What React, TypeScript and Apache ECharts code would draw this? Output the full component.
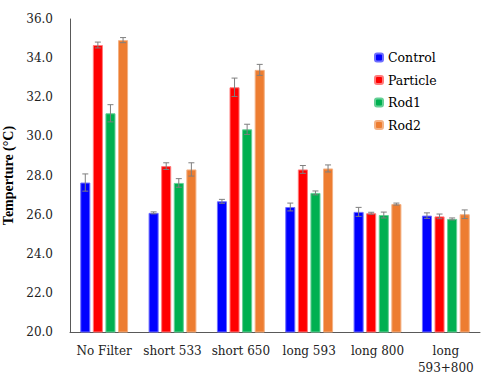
import React, { useEffect, useRef } from "react";
import * as echarts from "echarts";

const categories = ["No Filter", "short 533", "short 650", "long 593", "long 800", "long\n593+800"];
const seriesNames = ["Control", "Particle", "Rod1", "Rod2"];
const controlValues = [27.64, 26.09, 26.68, 26.39, 26.14, 25.95];
const particleValues = [34.67, 28.48, 32.51, 28.31, 26.07, 25.91];
const rod1Values = [31.18, 27.62, 30.36, 27.11, 25.98, 25.78];
const rod2Values = [34.92, 28.31, 33.4, 28.36, 26.54, 26.02];
const controlErrors = [0.44, 0.05, 0.1, 0.2, 0.23, 0.14];
const particleErrors = [0.15, 0.17, 0.47, 0.2, 0.05, 0.12];
const rod1Errors = [0.44, 0.22, 0.26, 0.1, 0.15, 0.05];
const rod2Errors = [0.13, 0.34, 0.28, 0.18, 0.05, 0.22];
const colors = ["#0000FF", "#FF0000", "#00B050", "#ED7D31"];
const borderColors = ["#6f6fff", "#ff7a7a", "#66d096", "#f4b183"];

const allValues = [controlValues, particleValues, rod1Values, rod2Values];
const allErrors = [controlErrors, particleErrors, rod1Errors, rod2Errors];

const CAT_GAP = 0.3;
const BAR_GAP = 0.25;
const SERIF = "DejaVu Serif";

export default function App() {
  const ref = useRef<HTMLDivElement>(null);
  useEffect(() => {
    if (!ref.current) return;
    const chart = echarts.init(ref.current, null, { renderer: "svg" });
    const n = seriesNames.length;
    const barSeries = seriesNames.map((name, i) => ({
      name,
      type: "bar",
      data: allValues[i],
      barGap: `${BAR_GAP * 100}%`,
      barCategoryGap: `${CAT_GAP * 100}%`,
      itemStyle: { color: colors[i], borderColor: borderColors[i], borderWidth: 1 },
    }));
    const errSeries = seriesNames.map((name, i) => ({
      name: name + "_err",
      type: "custom",
      z: 5,
      silent: true,
      data: allValues[i].map((v, k) => [k, v - allErrors[i][k], v + allErrors[i][k]]),
      renderItem: (params: any, api: any) => {
        const k = api.value(0);
        const lo = api.coord([k, api.value(1)]);
        const hi = api.coord([k, api.value(2)]);
        const band = api.size([1, 0])[0];
        const usable = band * (1 - CAT_GAP);
        const w = usable / (n + (n - 1) * BAR_GAP);
        const total = n * w + (n - 1) * w * BAR_GAP;
        const cx = lo[0] - total / 2 + i * w * (1 + BAR_GAP) + w / 2;
        const cap = 3;
        const style = { stroke: "#7f7f7f", lineWidth: 1 };
        return {
          type: "group",
          children: [
            { type: "line", shape: { x1: cx, y1: lo[1], x2: cx, y2: hi[1] }, style },
            { type: "line", shape: { x1: cx - cap, y1: hi[1], x2: cx + cap, y2: hi[1] }, style },
            { type: "line", shape: { x1: cx - cap, y1: lo[1], x2: cx + cap, y2: lo[1] }, style },
          ],
        };
      },
    }));
    chart.setOption({
      animation: false,
      legend: {
        data: seriesNames,
        orient: "vertical",
        left: 369,
        top: 46,
        itemWidth: 8,
        itemHeight: 8,
        itemGap: 9.5,
        textStyle: { fontFamily: SERIF, fontSize: 12.5, color: "#000" },
      },
      grid: { left: 70, right: 4, top: 19, bottom: 42, outerBoundsMode: "none", containLabel: false },
      xAxis: {
        type: "category",
        data: categories,
        axisLine: { lineStyle: { color: "#595959", width: 1 } },
        axisTick: { show: false },
        axisLabel: { fontFamily: SERIF, fontSize: 12, color: "#222", margin: 10, lineHeight: 17, interval: 0 },
      },
      yAxis: {
        type: "value",
        min: 20,
        max: 36,
        interval: 2,
        name: "Temperture (°C)",
        nameLocation: "middle",
        nameGap: 48,
        nameTextStyle: { fontFamily: "Liberation Serif", fontSize: 14, fontWeight: "bold", color: "#000" },
        axisLine: { show: true, lineStyle: { color: "#595959", width: 1 } },
        axisTick: { show: false },
        splitLine: { show: false },
        axisLabel: { fontFamily: SERIF, fontSize: 12, color: "#222", margin: 17, formatter: (v: number) => v.toFixed(1) },
      },
      series: [...barSeries, ...errSeries],
    });
    return () => chart.dispose();
  }, []);
  return <div ref={ref} style={{ width: 484, height: 374, position: "absolute", left: 0, top: 0 }} />;
}
